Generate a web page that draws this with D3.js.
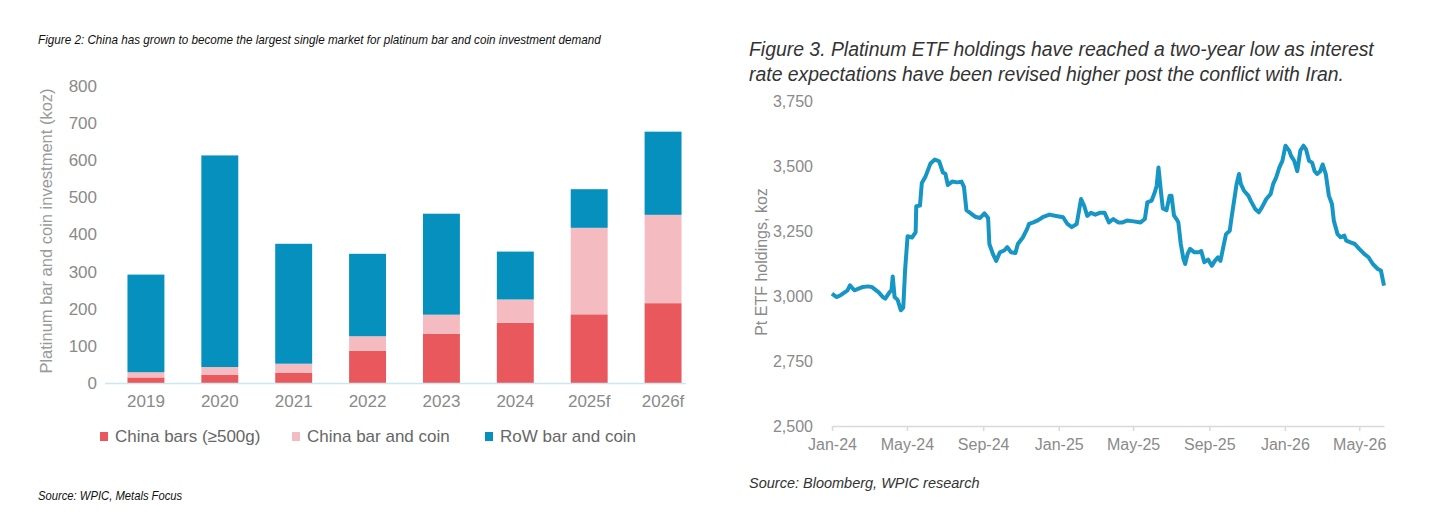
<!DOCTYPE html>
<html>
<head>
<meta charset="utf-8">
<script src="https://cdn.jsdelivr.net/npm/d3@7"></script>
<style>
  body { margin: 0; background: #fff; }
  svg { display: block; }
</style>
</head>
<body>
<svg id="graphArea" width="1456" height="532"></svg>
<script>

/* ---- 左: 棒グラフのデータ ---- */
const years = ["2019", "2020", "2021", "2022", "2023", "2024", "2025f", "2026f"];
const chinaBars = [15, 22, 27, 87, 132, 162, 185, 215];
const chinaBarCoin = [14, 21, 25, 39, 52, 63, 233, 238];
const rowBarCoin = [263, 570, 323, 222, 272, 129, 104, 224];
const seriesNames = ["China bars (≥500g)", "China bar and coin", "RoW bar and coin"];
const barTicks = [0, 100, 200, 300, 400, 500, 600, 700, 800];

/* ---- 右: ETF 保有量のデータ ---- */
const etfDates = [
  "2024-01-01", "2024-01-08", "2024-01-15", "2024-01-26", "2024-01-30", "2024-02-06",
  "2024-02-20", "2024-02-28", "2024-03-05", "2024-03-16", "2024-03-23", "2024-03-27",
  "2024-04-03", "2024-04-06", "2024-04-08", "2024-04-11", "2024-04-16", "2024-04-21",
  "2024-04-25", "2024-04-28", "2024-05-02", "2024-05-09", "2024-05-15", "2024-05-16",
  "2024-05-22", "2024-05-25", "2024-05-31", "2024-06-08", "2024-06-15", "2024-06-22",
  "2024-06-28", "2024-07-02", "2024-07-06", "2024-07-13", "2024-07-21", "2024-07-28",
  "2024-08-01", "2024-08-05", "2024-08-12", "2024-08-19", "2024-08-27", "2024-09-03",
  "2024-09-09", "2024-09-11", "2024-09-17", "2024-09-22", "2024-09-28", "2024-10-05",
  "2024-10-10", "2024-10-16", "2024-10-23", "2024-10-27", "2024-11-04", "2024-11-11",
  "2024-11-14", "2024-11-21", "2024-11-29", "2024-12-06", "2024-12-17", "2024-12-28",
  "2025-01-08", "2025-01-15", "2025-01-22", "2025-01-30", "2025-02-06", "2025-02-11",
  "2025-02-16", "2025-02-22", "2025-03-01", "2025-03-08", "2025-03-16", "2025-03-23",
  "2025-03-30", "2025-04-07", "2025-04-14", "2025-04-21", "2025-05-02", "2025-05-13",
  "2025-05-20", "2025-05-24", "2025-05-31", "2025-06-04", "2025-06-08", "2025-06-11",
  "2025-06-15", "2025-06-18", "2025-06-24", "2025-06-29", "2025-07-02", "2025-07-06",
  "2025-07-10", "2025-07-13", "2025-07-17", "2025-07-21", "2025-07-24", "2025-07-28",
  "2025-08-01", "2025-08-08", "2025-08-15", "2025-08-19", "2025-08-24", "2025-08-30",
  "2025-09-05", "2025-09-10", "2025-09-15", "2025-09-19", "2025-09-23", "2025-09-28",
  "2025-10-04", "2025-10-07", "2025-10-11", "2025-10-15", "2025-10-19", "2025-10-22",
  "2025-10-27", "2025-11-03", "2025-11-07", "2025-11-14", "2025-11-20", "2025-11-25",
  "2025-12-02", "2025-12-09", "2025-12-13", "2025-12-18", "2025-12-23", "2025-12-28",
  "2026-01-02", "2026-01-08", "2026-01-11", "2026-01-16", "2026-01-21", "2026-01-26",
  "2026-01-31", "2026-02-04", "2026-02-09", "2026-02-14", "2026-02-18", "2026-02-22",
  "2026-02-27", "2026-03-03", "2026-03-08", "2026-03-13", "2026-03-18", "2026-03-21",
  "2026-03-27", "2026-04-01", "2026-04-07", "2026-04-10", "2026-04-17", "2026-04-24",
  "2026-05-01", "2026-05-09", "2026-05-16", "2026-05-23", "2026-05-31", "2026-06-05",
  "2026-06-10"
];
const etfHoldings = [
  3009, 2996, 3003, 3022, 3041, 3022,
  3035, 3037, 3035, 3015, 2996, 2990,
  3015, 3022, 3075, 2996, 2985, 2945,
  2955, 3100, 3230, 3225, 3245, 3345,
  3348, 3435, 3460, 3510, 3525, 3518,
  3475, 3470, 3427, 3440, 3437, 3440,
  3420, 3330, 3318, 3305, 3300, 3318,
  3300, 3200, 3160, 3135, 3168, 3175,
  3188, 3168, 3165, 3200, 3225, 3258,
  3277, 3283, 3292, 3303, 3313, 3308,
  3303, 3277, 3265, 3277, 3373, 3347,
  3308, 3320, 3313, 3320, 3320, 3283,
  3296, 3283, 3283, 3290, 3287, 3283,
  3296, 3360, 3367, 3392, 3423, 3494,
  3400, 3337, 3330, 3386, 3386, 3310,
  3296, 3284, 3200, 3146, 3123, 3162,
  3181, 3168, 3168, 3173, 3130, 3140,
  3116, 3135, 3149, 3135, 3181, 3238,
  3251, 3303, 3366, 3430, 3469, 3430,
  3405, 3386, 3366, 3335, 3322, 3341,
  3373, 3392, 3430, 3456, 3494, 3520,
  3578, 3559, 3539, 3520, 3480, 3559,
  3578, 3565, 3520, 3513, 3480, 3469,
  3480, 3506, 3469, 3386, 3354, 3290,
  3238, 3226, 3232, 3213, 3206, 3200,
  3181, 3162, 3149, 3123, 3104, 3098,
  3040
];
const etfTicks = [2500, 2750, 3000, 3250, 3500, 3750];
const monthTicks = ["2024-01-01", "2024-05-01", "2024-09-01", "2025-01-01",
                    "2025-05-01", "2025-09-01", "2026-01-01", "2026-05-01"];

// 色
const barColors = ["#e8585d", "#f4bcc0", "#0590bd"];
const lineColor = "#1696c4";
const tickGrey = "#8a8a8a";

const sans = "'Liberation Sans', Arial, sans-serif";

let svg = d3.select("#graphArea");

/* ================= 左: 積み上げ棒グラフ ================= */

// タイトル (細めの書体に見せるため横方向を縮める)
svg.append("text")
  .attr("transform", "translate(38,44) scale(0.9,1)")
  .attr("font-family", sans).attr("font-style", "italic")
  .attr("font-size", "13px").attr("fill", "#111")
  .text("Figure 2: China has grown to become the largest single market for platinum bar and coin investment demand");

let xBand = d3.scaleBand()
  .domain(years)
  .range([109, 700])
  .paddingInner(0.5)
  .paddingOuter(0.25);

let yBar = d3.scaleLinear()
  .domain([0, 800])
  .range([383, 86]);

// 積み上げ用に整理する
let barRows = years.map((y, i) => ({
  year: y, a: chinaBars[i], b: chinaBarCoin[i], c: rowBarCoin[i]
}));
let stacked = d3.stack().keys(["a", "b", "c"])(barRows);

let gBars = svg.append("g").attr("class", "bars");
stacked.forEach((layer, k) => {
  gBars.selectAll(null)
    .data(layer)
    .enter()
    .append("rect")
    .attr("x", d => xBand(d.data.year))
    .attr("width", xBand.bandwidth())
    .attr("y", d => yBar(d[1]))
    .attr("height", d => yBar(d[0]) - yBar(d[1]))
    .attr("fill", barColors[k]);
});

// 軸線
svg.append("line")
  .attr("x1", 105).attr("x2", 686)
  .attr("y1", yBar(0) + 0.5).attr("y2", yBar(0) + 0.5)
  .attr("stroke", "#cbe7f0").attr("stroke-width", 1.5);

// Y 軸
let yAxisL = svg.append("g")
  .attr("transform", "translate(97,0)")
  .call(d3.axisLeft(yBar).tickValues(barTicks).tickSize(0).tickPadding(0));
yAxisL.select(".domain").remove();
yAxisL.selectAll("text")
  .attr("font-family", sans).attr("font-size", "17px").attr("fill", tickGrey);

// X 軸
let xAxisL = svg.append("g")
  .attr("transform", "translate(0,395)")
  .call(d3.axisBottom(xBand).tickSize(0).tickPadding(0));
xAxisL.select(".domain").remove();
xAxisL.selectAll("text")
  .attr("font-family", sans).attr("font-size", "17px").attr("fill", tickGrey);

// Y 軸タイトル
svg.append("text")
  .attr("transform", "translate(52,231) rotate(-90)")
  .attr("text-anchor", "middle")
  .attr("font-family", sans).attr("font-size", "16.5px").attr("fill", "#9a9a9a")
  .text("Platinum bar and coin investment (koz)");

// レジェンド
let legendX = [100, 292, 485];
let lg = svg.append("g").attr("class", "legend");
lg.selectAll("rect")
  .data(seriesNames)
  .enter()
  .append("rect")
  .attr("x", (d, i) => legendX[i])
  .attr("y", 432)
  .attr("width", 8).attr("height", 9)
  .attr("fill", (d, i) => barColors[i]);
lg.selectAll("text")
  .data(seriesNames)
  .enter()
  .append("text")
  .attr("x", (d, i) => legendX[i] + 15)
  .attr("y", 442)
  .attr("font-family", sans).attr("font-size", "17px").attr("fill", "#666")
  .text(d => d);

// 出典
svg.append("text")
  .attr("transform", "translate(38,500) scale(0.9,1)")
  .attr("font-family", sans).attr("font-style", "italic")
  .attr("font-size", "12.5px").attr("fill", "#111")
  .text("Source: WPIC, Metals Focus");

/* ================= 右: 折れ線グラフ ================= */

let title3 = [
  "Figure 3. Platinum ETF holdings have reached a two-year low as interest",
  "rate expectations have been revised higher post the conflict with Iran."
];
svg.append("g").selectAll("text")
  .data(title3)
  .enter()
  .append("text")
  .attr("x", 749)
  .attr("y", (d, i) => 56 + i * 25)
  .attr("font-family", sans).attr("font-style", "italic")
  .attr("font-size", "19.4px").attr("fill", "#333")
  .text(d => d);

let parse = d3.timeParse("%Y-%m-%d");
let etfData = etfDates.map((d, i) => ({ date: parse(d), v: etfHoldings[i] }));

let xTime = d3.scaleTime()
  .domain([parse("2024-01-01"), parse("2026-06-10")])
  .range([832, 1384]);

let yEtf = d3.scaleLinear()
  .domain([2500, 3750])
  .range([426, 101]);

// X 軸
let xAxisR = svg.append("g")
  .attr("transform", "translate(0,426)")
  .call(d3.axisBottom(xTime)
    .tickValues(monthTicks.map(parse))
    .tickFormat(d3.timeFormat("%b-%y"))
    .tickSize(5).tickSizeOuter(0).tickPadding(8));
xAxisR.select(".domain").attr("stroke", "#d9d9d9").attr("stroke-width", 1.5);
xAxisR.selectAll(".tick line").attr("stroke", "#d9d9d9").attr("stroke-width", 1.5);
xAxisR.selectAll("text")
  .attr("font-family", sans).attr("font-size", "16px").attr("fill", tickGrey);

// Y 軸
let yAxisR = svg.append("g")
  .attr("transform", "translate(813,0)")
  .call(d3.axisLeft(yEtf).tickValues(etfTicks).tickFormat(d3.format(",")).tickSize(0).tickPadding(0));
yAxisR.select(".domain").remove();
yAxisR.selectAll("text")
  .attr("font-family", sans).attr("font-size", "16px").attr("fill", tickGrey);

// Y 軸タイトル
svg.append("text")
  .attr("transform", "translate(767,262) rotate(-90)")
  .attr("text-anchor", "middle")
  .attr("font-family", sans).attr("font-size", "16px").attr("fill", tickGrey)
  .text("Pt ETF holdings, koz");

// 折れ線
let line = d3.line()
  .x(d => xTime(d.date))
  .y(d => yEtf(d.v));
svg.append("path")
  .datum(etfData)
  .attr("d", line)
  .attr("fill", "none")
  .attr("stroke", lineColor)
  .attr("stroke-width", 4)
  .attr("stroke-linejoin", "round");

// 出典
svg.append("text")
  .attr("x", 749).attr("y", 488)
  .attr("font-family", sans).attr("font-style", "italic")
  .attr("font-size", "14.5px").attr("fill", "#333")
  .text("Source: Bloomberg, WPIC research");

</script>
</body>
</html>
